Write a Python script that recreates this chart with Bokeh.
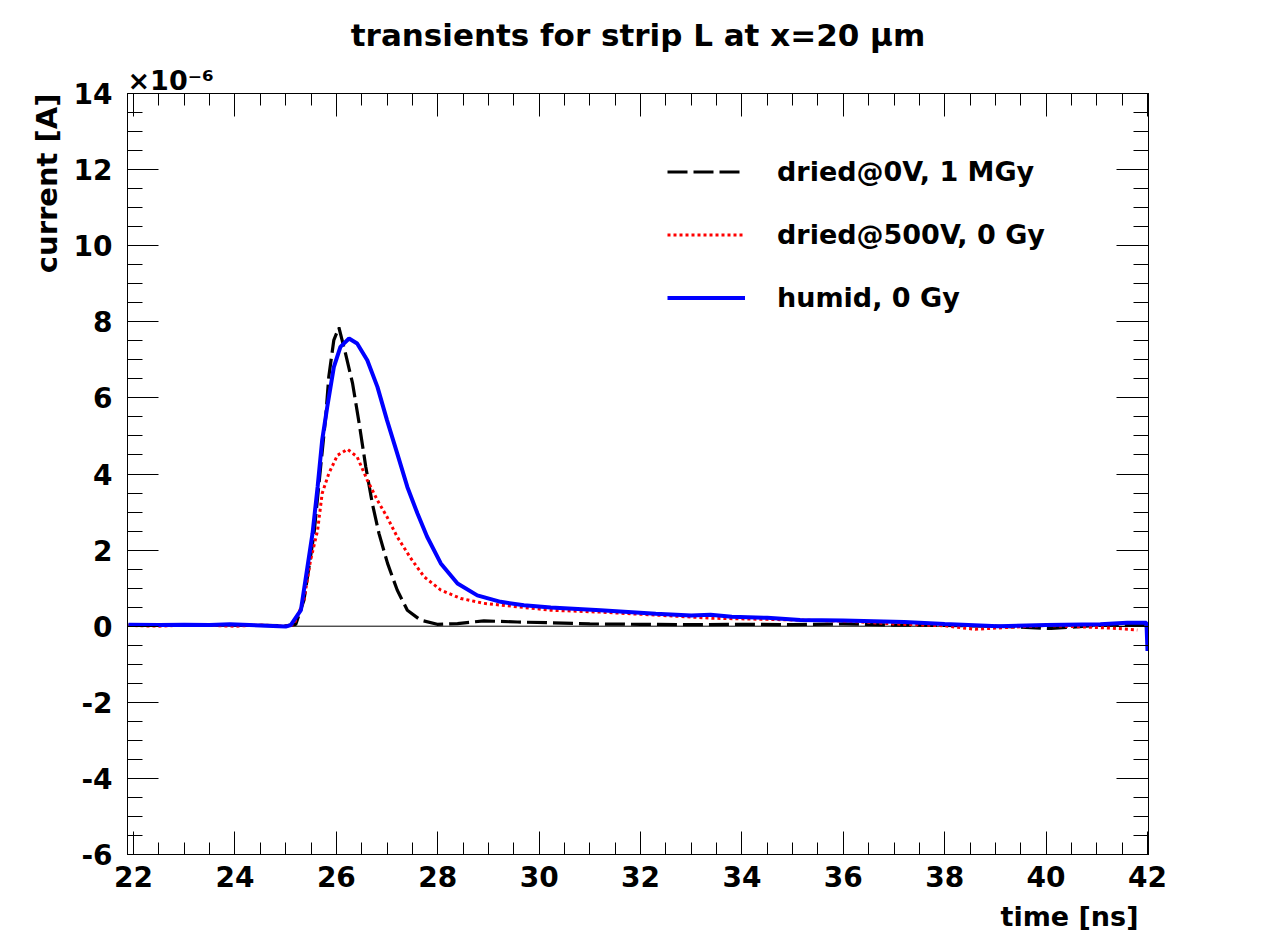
from bokeh.plotting import figure
from bokeh.models import (Range1d, LinearAxis, FixedTicker, Span, Legend, Title,
                          LegendItem, CustomJSTickFormatter)
from bokeh.embed import file_html
from bokeh.resources import INLINE
import numpy as np

# ---------------- data (current in units of 1e-6 A, time in ns) ----------------
t_black = [21.9, 22.5, 23.0, 23.5, 24.0, 24.5, 25.0, 25.2, 25.36, 25.56, 25.69, 25.79,
           25.85, 25.95, 26.05, 26.18, 26.32, 26.45, 26.58, 26.71, 26.84, 27.01, 27.20,
           27.40, 27.66, 27.99, 28.39, 28.91, 29.57, 30.23, 31.0, 32.0, 33.0, 34.0, 35.0,
           36.0, 37.0, 38.0, 39.0, 40.1, 41.0, 41.9, 42.0]
i_black = [0.03, 0.04, 0.02, 0.04, 0.03, 0.02, 0.01, 0.05, 0.68, 2.44, 4.19, 5.50,
           6.55, 7.52, 7.85, 7.17, 6.38, 5.33, 4.19, 3.22, 2.44, 1.65, 0.95,
           0.42, 0.16, 0.05, 0.07, 0.14, 0.11, 0.09, 0.06, 0.05, 0.04, 0.05, 0.04,
           0.06, 0.03, 0.02, 0.00, -0.06, 0.02, 0.03, 0.00]

t_red = [21.9, 22.5, 23.0, 23.5, 24.0, 24.5, 25.0, 25.16, 25.36, 25.49, 25.63, 25.72,
         25.85, 26.02, 26.22, 26.41, 26.61, 26.81, 27.00, 27.20, 27.47, 27.73, 28.06,
         28.45, 28.91, 29.57, 30.23, 31.2, 32.2, 33.4, 34.5, 35.5, 36.1, 37.0, 38.0,
         38.6, 39.0, 40.0, 41.3, 41.8]
i_red = [0.02, 0.00, 0.03, 0.02, 0.00, 0.03, 0.00, 0.04, 0.68, 1.73, 2.52, 3.49,
         4.01, 4.49, 4.65, 4.45, 3.84, 3.31, 2.87, 2.35, 1.78, 1.30, 0.95,
         0.73, 0.60, 0.51, 0.42, 0.37, 0.30, 0.21, 0.18, 0.15, 0.13, 0.06, 0.01,
         -0.08, -0.05, 0.02, -0.05, -0.10]

t_blue = [21.9, 22.5, 23.0, 23.5, 23.9, 24.5, 25.0, 25.10, 25.30, 25.43, 25.53, 25.63,
          25.72, 25.82, 25.95, 26.08, 26.25, 26.41, 26.61, 26.81, 27.00, 27.20, 27.40,
          27.60, 27.79, 28.06, 28.39, 28.78, 29.24, 29.70, 30.23, 31.21, 32.3, 33.0,
          33.38, 33.8, 34.5, 35.15, 36.0, 36.6, 37.2, 38.0, 39.05, 40.0, 41.07, 41.6,
          41.98, 42.0]
i_blue = [0.04, 0.03, 0.04, 0.03, 0.05, 0.02, -0.01, 0.03, 0.42, 1.56, 2.44, 3.66,
          4.89, 5.76, 6.81, 7.34, 7.56, 7.43, 6.99, 6.29, 5.41, 4.54, 3.66,
          2.96, 2.35, 1.65, 1.12, 0.81, 0.64, 0.55, 0.49, 0.42, 0.33, 0.28,
          0.30, 0.25, 0.22, 0.16, 0.15, 0.13, 0.11, 0.06, 0.00, 0.03, 0.05, 0.09,
          0.09, -0.65]

labels = ["dried@0V, 1 MGy", "dried@500V, 0 Gy", "humid, 0 Gy"]
x_major = [22, 24, 26, 28, 30, 32, 34, 36, 38, 40, 42]
y_major = [-6, -4, -2, 0, 2, 4, 6, 8, 10, 12, 14]

title_text = "transients for strip L at x=20 μm"
x_title = "time [ns]"
y_title = "current [A]"
exp_text = "×10⁻⁶"

# ---------------- layout ----------------
X0, X1 = 21.88, 42.02
Y0, Y1 = -6.0, 14.0
W, H = 1270, 945
ML, MT = 127, 93
MR = W - 1148
MB = H - 854

FONT = "DejaVu Sans"

p = figure(width=W, height=H, output_backend="svg", toolbar_location=None,
           x_range=Range1d(X0, X1), y_range=Range1d(Y0, Y1),
           x_axis_location=None, y_axis_location=None,
           min_border_left=ML, min_border_right=MR, min_border_top=MT, min_border_bottom=MB)
p.grid.visible = False
p.background_fill_color = "white"
p.border_fill_color = "white"
p.outline_line_color = "black"
p.outline_line_width = 1

x_minor = list(np.arange(22.0, 42.01, 0.5))
y_minor = list(np.arange(-6.0, 14.01, 0.5))

def make_axis(kind, show_labels, tick_in, minor_in):
    ticker = FixedTicker(ticks=(x_major if kind == "x" else y_major),
                         minor_ticks=(x_minor if kind == "x" else y_minor))
    ax = LinearAxis(ticker=ticker)
    ax.axis_line_color = "black"
    ax.axis_line_width = 1
    ax.major_tick_in = tick_in
    ax.major_tick_out = 0
    ax.minor_tick_in = minor_in
    ax.minor_tick_out = 0
    ax.major_tick_line_color = "black"
    ax.minor_tick_line_color = "black"
    ax.major_label_text_font = FONT
    ax.major_label_text_font_style = "bold"
    ax.major_label_text_color = "black"
    if show_labels:
        ax.major_label_text_font_size = "28px"
        ax.formatter = CustomJSTickFormatter(code="return tick.toFixed(0)")
    else:
        ax.major_label_text_font_size = "0px"
        ax.formatter = CustomJSTickFormatter(code="return ''")
        ax.major_label_standoff = 0
    return ax

bx = make_axis("x", True, 23, 12)
bx.major_label_standoff = 11
p.add_layout(bx, "below")
tx = make_axis("x", False, 23, 12)
p.add_layout(tx, "above")
ly = make_axis("y", True, 31, 15)
ly.major_label_standoff = 15
p.add_layout(ly, "left")
ry = make_axis("y", False, 32, 15)
p.add_layout(ry, "right")

zero = Span(location=0, dimension="width", line_color="black", line_width=1, level="underlay")
p.add_layout(zero)

r_black = p.line(t_black, i_black, line_color="black", line_width=3.2, line_dash="20 6")
r_red = p.line(t_red, i_red, line_color="#ff0000", line_width=3, line_dash="3 3")
r_blue = p.line(t_blue, i_blue, line_color="#0000ff", line_width=4)

legend = Legend(items=[LegendItem(label=labels[0], renderers=[r_black]),
                       LegendItem(label=labels[1], renderers=[r_red]),
                       LegendItem(label=labels[2], renderers=[r_blue])],
                location=(540, 525))
legend.glyph_width = 78
legend.glyph_height = 63
legend.label_height = 63
legend.label_standoff = 32
legend.spacing = 0
legend.padding = 0
legend.margin = 0
legend.border_line_color = None
legend.background_fill_alpha = 0
legend.label_text_font = FONT
legend.label_text_font_style = "bold"
legend.label_text_font_size = "27px"
legend.label_text_color = "black"
p.add_layout(legend)

def style_title(t, size):
    t.text_font = FONT
    t.text_font_style = "bold"
    t.text_font_size = size
    t.text_color = "black"

# exponent marker (above the frame, left aligned)
t_exp = Title(text=exp_text, align="left", offset=0, standoff=-5)
style_title(t_exp, "27px")
p.add_layout(t_exp, "above")

# main title
p.title.text = title_text
p.title.align = "center"
p.title.standoff = 25
p.title.text_line_height = 0.8
style_title(p.title, "31px")

# axis titles (ROOT style: at the end of the axis)
t_x = Title(text=x_title, align="right", offset=10, standoff=18)
style_title(t_x, "27px")
p.add_layout(t_x, "below")

t_y = Title(text=y_title, align="right", offset=0, standoff=13)
style_title(t_y, "29px")
p.add_layout(t_y, "left")

open("out.html", "w").write(file_html(p, INLINE))
